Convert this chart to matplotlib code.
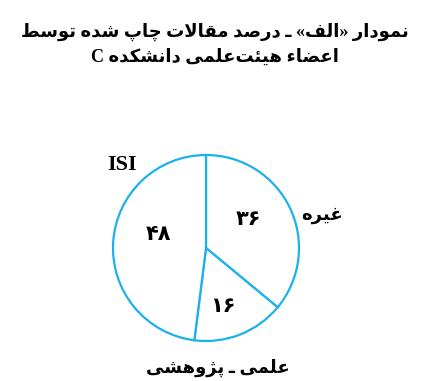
import matplotlib
matplotlib.use("Agg")
import matplotlib.pyplot as plt

# data
labels = ['غیره', 'علمی ـ پژوهشی', 'ISI']
values = [36, 16, 48]
title_1 = 'نمودار «الف» ـ درصد مقالات چاپ شده توسط'
title_2 = 'اعضاء هیئت\u200cعلمی دانشکده C'

# --- tiny persian shaper (no arabic_reshaper / bidi in the sandbox) ---
dual = {'ب': 0xFE8F, 'ت': 0xFE95, 'ث': 0xFE99, 'ج': 0xFE9D, 'ح': 0xFEA1,
		'خ': 0xFEA5, 'س': 0xFEB1, 'ش': 0xFEB5, 'ص': 0xFEB9, 'ض': 0xFEBD,
		'ط': 0xFEC1, 'ظ': 0xFEC5, 'ع': 0xFEC9, 'غ': 0xFECD, 'ف': 0xFED1,
		'ق': 0xFED5, 'ل': 0xFEDD, 'م': 0xFEE1, 'ن': 0xFEE5, 'ه': 0xFEE9,
		'ئ': 0xFE89, 'پ': 0xFB56, 'چ': 0xFB7A, 'ک': 0xFB8E, 'ی': 0xFBFC}
right = {'ا': 0xFE8D, 'د': 0xFEA9, 'ذ': 0xFEAB, 'ر': 0xFEAD, 'ز': 0xFEAF,
		 'ژ': 0xFB8A, 'و': 0xFEED}
other = {'ء': 0xFE80}
mirror = {'«': '»', '»': '«', '(': ')', ')': '('}
fa_digits = str.maketrans('0123456789', '۰۱۲۳۴۵۶۷۸۹')


def joins_left(c):
	return c in dual or c == 'ـ'


def joins_right(c):
	return c in dual or c in right or c == 'ـ'


def shape(s):
	out = []
	i = 0
	while i < len(s):
		c = s[i]
		prev = s[i - 1] if i > 0 else ' '
		nxt = s[i + 1] if i + 1 < len(s) else ' '
		jp = joins_left(prev) and joins_right(c)
		if c == 'ل' and nxt == 'ا':
			out.append(chr(0xFEFC if jp else 0xFEFB))
			i += 2
			continue
		jn = joins_left(c) and joins_right(nxt)
		if c in dual:
			base = dual[c]
			if jp and jn:
				out.append(chr(base + 3))
			elif jp:
				out.append(chr(base + 1))
			elif jn:
				out.append(chr(base + 2))
			else:
				out.append(chr(base))
		elif c in right:
			out.append(chr(right[c] + 1 if jp else right[c]))
		elif c in other:
			out.append(chr(other[c]))
		elif c == '\u200c':
			pass
		else:
			out.append(c)
		i += 1
	return ''.join(mirror.get(c, c) for c in reversed(out))


def vis(s):
	if any('\u0600' <= c <= '\u06ff' for c in s):
		return shape(s)
	return s


fam = ['Liberation Serif', 'DejaVu Sans']
edge = '#1cb1ec'

fig = plt.figure(figsize=(4.3, 3.81), dpi=100)
ax = fig.add_axes([0, 0, 1, 1])
ax.pie(values, startangle=90, counterclock=False, radius=1,
	   colors=['white'] * len(values),
	   wedgeprops=dict(edgecolor=edge, linewidth=1.6))
# pie centre at (206, 248) px, radius 93 px
r_px = 93.0
ax.set_xlim(-206 / r_px, (430 - 206) / r_px)
ax.set_ylim(-(381 - 248) / r_px, 248 / r_px)
ax.set_aspect('auto')
ax.axis('off')

# value labels inside wedges
val_pos = [(0.46, 0.30), (0.18, -0.63), (-0.51, 0.14)]
for v, (x, y) in zip(values, val_pos):
	ax.text(x, y, str(v).translate(fa_digits), ha='center', va='center',
			fontsize=15, fontweight='bold', family=fam)

# category labels outside
cat_pos = [(1.25, 0.35), (0.13, -1.29), (-0.90, 0.89)]
cat_size = [13, 13, 16]
for lab, (x, y), fs in zip(labels, cat_pos, cat_size):
	ax.text(x, y, vis(lab), ha='center', va='center',
			fontsize=fs, fontweight='bold', family=fam)

fig.text(0.5, 1 - 37 / 381, vis(title_1), ha='center', va='baseline',
		 fontsize=13, fontweight='bold', family=fam)
fig.text(0.5, 1 - 62 / 381, vis(title_2), ha='center', va='baseline',
		 fontsize=13, fontweight='bold', family=fam)

fig.savefig('out.png', dpi=100, facecolor='white')
